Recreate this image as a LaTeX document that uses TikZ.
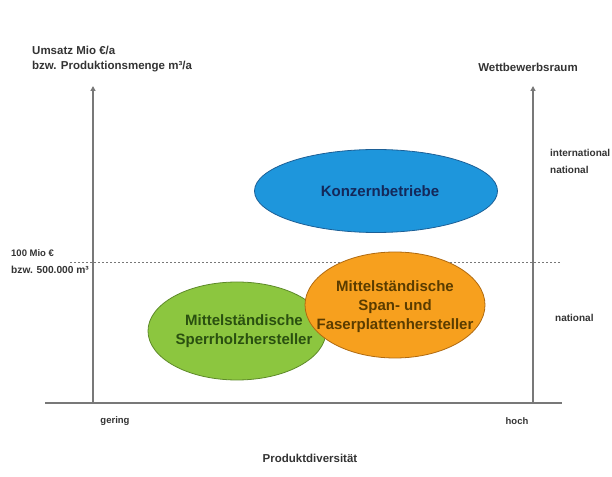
\documentclass[tikz,border=0pt]{standalone}
\usepackage{fontspec}
\setmainfont{Liberation Sans}
\usepackage{xcolor}
\usepackage{tikz}
\usetikzlibrary{shapes.geometric,arrows.meta,positioning}
\definecolor{axisgray}{HTML}{787878}
\definecolor{labelgray}{HTML}{333333}
\definecolor{konzernfill}{HTML}{1E96DC}
\definecolor{konzernline}{HTML}{1C5F96}
\definecolor{konzerntext}{HTML}{14285A}
\definecolor{sperrfill}{HTML}{8CC63F}
\definecolor{sperrline}{HTML}{5E8A2A}
\definecolor{sperrtext}{HTML}{2A5010}
\definecolor{spanfill}{HTML}{F7A01E}
\definecolor{spanline}{HTML}{B06A10}
\definecolor{spantext}{HTML}{5A3C00}
\tikzset{
	market map/.style={x=1pt, y=1pt,
		font=\bfseries\fontsize{9.5}{12}\selectfont},
	axis/.style={draw=axisgray, line width=1.4pt},
	axis arrow/.style={axis, -{Triangle[length=5pt,width=5pt]}},
	limit/.style={draw=axisgray, line width=0.8pt, dash pattern=on 2pt off 2pt},
	group/.style={ellipse, draw, line width=0.8pt, inner sep=0pt},
	group text/.style={align=center, inner sep=0pt,
		font=\bfseries\fontsize{15}{19}\selectfont},
	axis label/.style={inner sep=0pt, text=labelgray}
}

\begin{document}
\begin{tikzpicture}[market map]
   \useasboundingbox (0,0) rectangle (612,476);
   % axes
   \coordinate (O) at (93,73);
   \coordinate (R) at (533,73);
   \coordinate (xstart) at (45,73);
   \coordinate (xend) at (562,73);
   \coordinate (ytop) at (93,390);
   \coordinate (rtop) at (533,390);
   \coordinate (limitL) at (70,214);
   \coordinate (limitR) at (560,214);
   \draw[axis] (xstart) -- (xend);
   \draw[axis arrow] (O) -- (ytop);
   \draw[axis arrow] (R) -- (rtop);
   \draw[limit] (limitL) -- (limitR);
   % groups
   \node[group, draw=konzernline, fill=konzernfill,
         minimum width=243pt, minimum height=83pt] (konzern) at (376,285) {};
   \node[group, draw=sperrline, fill=sperrfill,
         minimum width=178pt, minimum height=98pt] (sperr) at (237,145) {};
   \node[group, draw=spanline, fill=spanfill,
         minimum width=180pt, minimum height=106pt] (span) at (395,171) {};
   \node[group text, text=konzerntext] (konzernT) at ([xshift=4pt]konzern.center) {Konzernbetriebe};
   \node[group text, text=sperrtext] (sperrT) at ([xshift=7pt]sperr.center)
      {Mittelständische\\Sperrholzhersteller};
   \node[group text, text=spantext] (spanT) at ([yshift=-2pt]span.center)
      {Mittelständische\\Span- und\\Faserplattenhersteller};
   % labels
   \node[axis label, anchor=north west, align=left,
         font=\bfseries\fontsize{11.5}{15}\selectfont] (umsatz) at (32,430)
      {Umsatz Mio €/a\\bzw. Produktionsmenge m³/a};
   \node[axis label, font=\bfseries\fontsize{11.5}{13}\selectfont] (raum) at (528,409)
      {Wettbewerbsraum};
   \node[axis label, anchor=north west, align=left,
         font=\bfseries\fontsize{10}{17}\selectfont] (inter) at (550,327)
      {international\\national};
   \node[axis label, anchor=west] (grenze) at (11,223) {100 Mio €};
   \node[axis label, anchor=west, font=\bfseries\fontsize{10.2}{12}\selectfont] (grenzeM) at (11,206)
      {bzw. 500.000 m³};
   \node[axis label, anchor=west, font=\bfseries\fontsize{10}{12}\selectfont] (national) at (555,158)
      {national};
   \node[axis label] (gering) at (115,55) {gering};
   \node[axis label] (hoch) at (517,55) {hoch};
   \node[axis label, font=\bfseries\fontsize{11.5}{13}\selectfont] (divers) at (310,18)
      {Produktdiversität};
\end{tikzpicture}
\end{document}
